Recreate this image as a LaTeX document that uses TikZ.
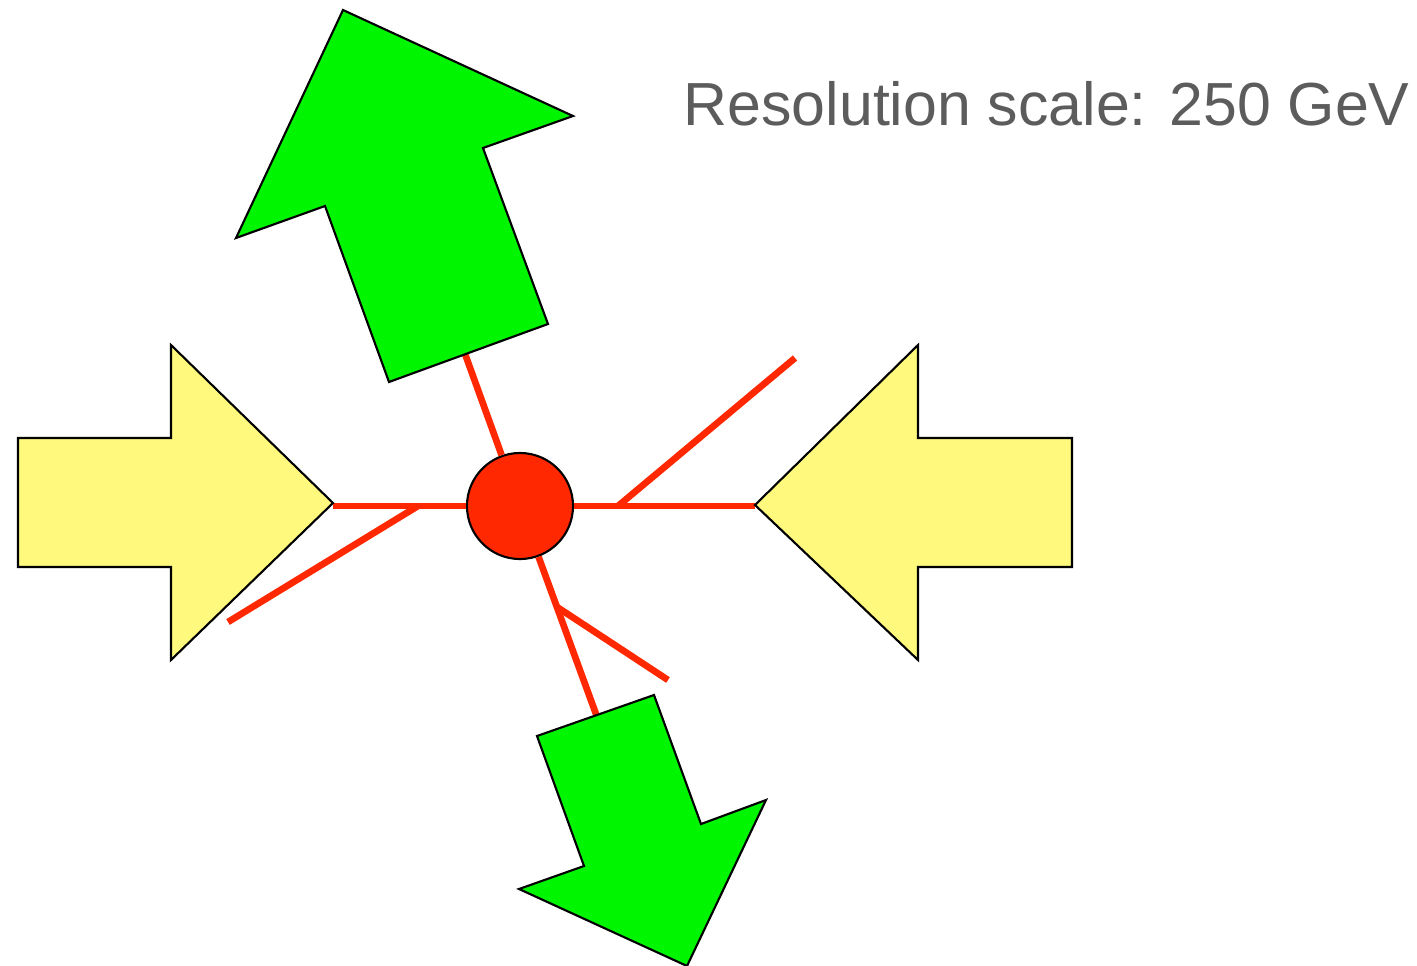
\documentclass[tikz,border=0pt]{standalone}
\usepackage{fontspec}
\setmainfont{Liberation Sans}
\usetikzlibrary{calc}
\definecolor{beamyellow}{RGB}{255,250,125}
\definecolor{jetgreen}{RGB}{0,245,0}
\definecolor{partonred}{RGB}{255,40,0}
\definecolor{labelgray}{RGB}{92,92,92}
\tikzset{
  x=0.01cm, y=-0.01cm,
  beam/.style = {draw=black, line width=0.6pt, fill=beamyellow, line join=miter},
  jet/.style = {draw=black, line width=0.6pt, fill=jetgreen, line join=miter},
  parton/.style = {draw=partonred, line width=1.9pt},
  vertex/.style = {circle, draw=black, line width=0.6pt, fill=partonred, minimum size=1.06cm, inner sep=0pt},
  scalelabel/.style = {anchor=base west, inner sep=0pt, text=labelgray, font=\fontsize{17.3}{20}\selectfont}
}
\begin{document}
\begin{tikzpicture}
  \useasboundingbox (0,0) rectangle (1417,966);
  % hard vertex and partons
  \node[vertex] (v) at (520,506) {};
  \coordinate (lin) at (333,506);
  \coordinate (rin) at (755,506);
  \coordinate (lsplit) at (418,506);
  \coordinate (rsplit) at (618,506);
  \coordinate (dsplit) at (557,607);
  \draw[parton] (v) -- (lin);
  \draw[parton] (v) -- (rin);
  \draw[parton] (lsplit) -- (228,622);
  \draw[parton] (rsplit) -- (795,358);
  \draw[parton] (v) -- (460,340);
  \draw[parton] (v) -- (600,725);
  \draw[parton] (dsplit) -- (668,680);
  % incoming beams
  \draw[beam] (18,438) -- (171,438) -- (171,345) -- (333,503) -- (171,660) -- (171,567) -- (18,567) -- cycle;
  \draw[beam] (1072,438) -- (918,438) -- (918,345) -- (755,505) -- (918,660) -- (918,567) -- (1072,567) -- cycle;
  % outgoing jets
  \draw[jet] (389,382) -- (548,324) -- (483,148) -- (573,116) -- (343,10) -- (236,238) -- (325,206) -- cycle;
  \draw[jet] (537,736) -- (654,695) -- (701,824) -- (766,800) -- (687,966) -- (519,889) -- (584,866) -- cycle;
  \node[scalelabel] (scale) at (683,125) {Resolution scale: 250 GeV};
\end{tikzpicture}
\end{document}
